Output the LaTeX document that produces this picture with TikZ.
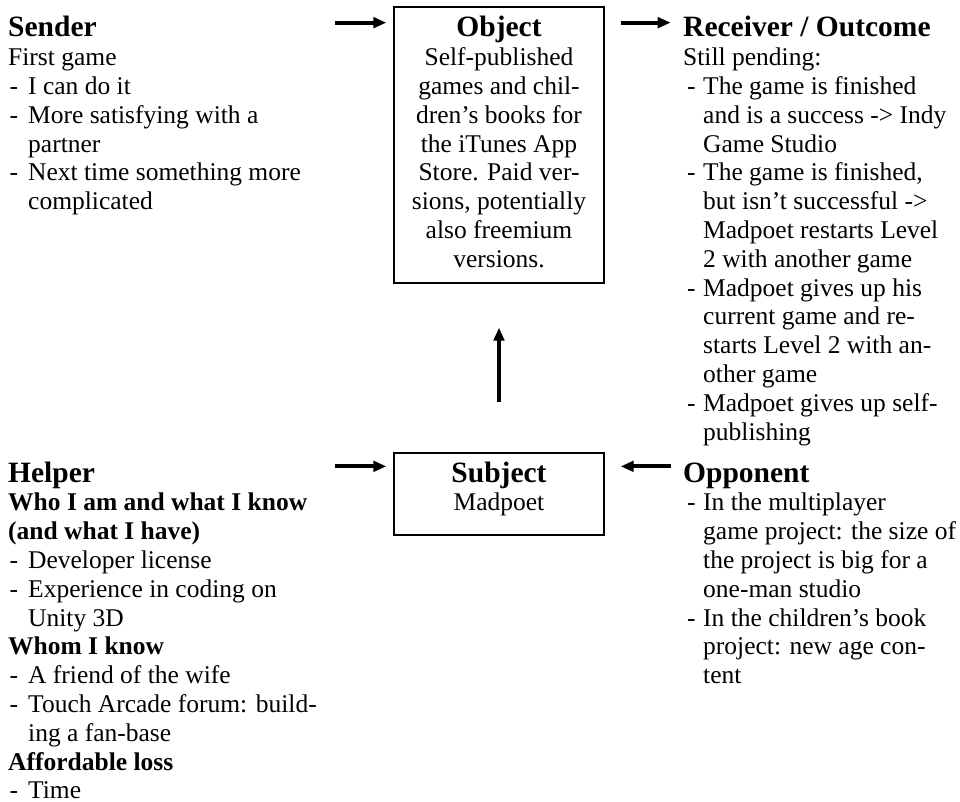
\documentclass[tikz,border=0pt]{standalone}
\usepackage{fontspec}
\setmainfont{Liberation Serif}
\usetikzlibrary{arrows.meta,calc}

% list layout: offset of the dash and width of the dash column
\newlength\dashin
\newlength\dashw
\newcommand\bodyfont{\fontsize{25.5}{28.8}\selectfont}
\newcommand\hd[1]{{\fontsize{29.5}{30}\selectfont\bfseries #1}}
\newcommand\sh[1]{{\bfseries #1}}
\newcommand\bl[1]{\hspace*{\dashin}\makebox[\dashw][l]{-}#1}
\newcommand\ct[1]{\hspace*{\dashin}\hspace*{\dashw}#1}

\tikzset{
  txt/.style={anchor=base west, inner sep=0pt},
  actbox/.style={draw, line width=1.3pt, inner sep=0pt, minimum width=210pt, anchor=base},
  arr/.style={line width=4pt, -{Triangle[length=13pt,width=10.5pt]}},
}

\begin{document}
\begin{tikzpicture}[x=1pt, y=-1pt]
\useasboundingbox (0,0) rectangle (960,802);

% ---- upper row -------------------------------------------------------
\node[txt] (sender) at (8,37) {\parbox[t]{320pt}{\bodyfont\raggedright
  \setlength\dashin{1.5pt}\setlength\dashw{18.5pt}%
  \hd{Sender}\\
  First game\\
  \bl{I can do it}\\
  \bl{More satisfying with a}\\
  \ct{partner}\\
  \bl{Next time something more}\\
  \ct{complicated}}};

\node[actbox, text height=30pt, text depth=246pt] (obj) at (499,37)
  {\parbox[t]{206pt}{\bodyfont\centering
  \hd{Object}\\
  Self-published\\
  games and chil-\\
  dren’s books for\\
  the iTunes App\\
  Store. Paid ver-\\
  sions, potentially\\
  also freemium\\
  versions.}};

\node[txt] (recv) at (683,37) {\parbox[t]{280pt}{\bodyfont\raggedright
  \setlength\dashin{4pt}\setlength\dashw{16pt}%
  \hd{Receiver / Outcome}\\
  Still pending:\\
  \bl{The game is finished}\\
  \ct{and is a success -> Indy}\\
  \ct{Game Studio}\\
  \bl{The game is finished,}\\
  \ct{but isn’t successful ->}\\
  \ct{Madpoet restarts Level}\\
  \ct{2 with another game}\\
  \bl{Madpoet gives up his}\\
  \ct{current game and re-}\\
  \ct{starts Level 2 with an-}\\
  \ct{other game}\\
  \bl{Madpoet gives up self-}\\
  \ct{publishing}}};

% ---- lower row -------------------------------------------------------
\node[txt] (helper) at (8,482) {\parbox[t]{320pt}{\bodyfont\raggedright
  \setlength\dashin{1.5pt}\setlength\dashw{18.5pt}%
  \hd{Helper}\\
  \sh{Who I am and what I know}\\
  \sh{(and what I have)}\\
  \bl{Developer license}\\
  \bl{Experience in coding on}\\
  \ct{Unity 3D}\\
  \sh{Whom I know}\\
  \bl{A friend of the wife}\\
  \bl{Touch Arcade forum: build-}\\
  \ct{ing a fan-base}\\
  \sh{Affordable loss}\\
  \bl{Time}}};

\node[actbox, text height=29pt, text depth=53pt] (subj) at (499,482)
  {\parbox[t]{206pt}{\bodyfont\centering
  \hd{Subject}\\
  Madpoet}};

\node[txt] (opp) at (683,482) {\parbox[t]{280pt}{\bodyfont\raggedright
  \setlength\dashin{4pt}\setlength\dashw{16pt}%
  \hd{Opponent}\\
  \bl{In the multiplayer}\\
  \ct{game project: the size of}\\
  \ct{the project is big for a}\\
  \ct{one-man studio}\\
  \bl{In the children’s book}\\
  \ct{project: new age con-}\\
  \ct{tent}}};

% ---- arrows ----------------------------------------------------------
\draw[arr] ([xshift=-58pt,yshift=-16.3pt]obj.north west) -- ([xshift=-7pt,yshift=-16.3pt]obj.north west);
\draw[arr] ([xshift=16pt,yshift=-16.3pt]obj.north east) -- ([xshift=66pt,yshift=-16.3pt]obj.north east);
\draw[arr] ([yshift=50pt]subj.north) -- ([yshift=-44pt]obj.south);
\draw[arr] ([xshift=-58pt,yshift=-14pt]subj.north west) -- ([xshift=-7pt,yshift=-14pt]subj.north west);
\draw[arr] ([xshift=66pt,yshift=-14pt]subj.north east) -- ([xshift=16pt,yshift=-14pt]subj.north east);
\end{tikzpicture}
\end{document}
